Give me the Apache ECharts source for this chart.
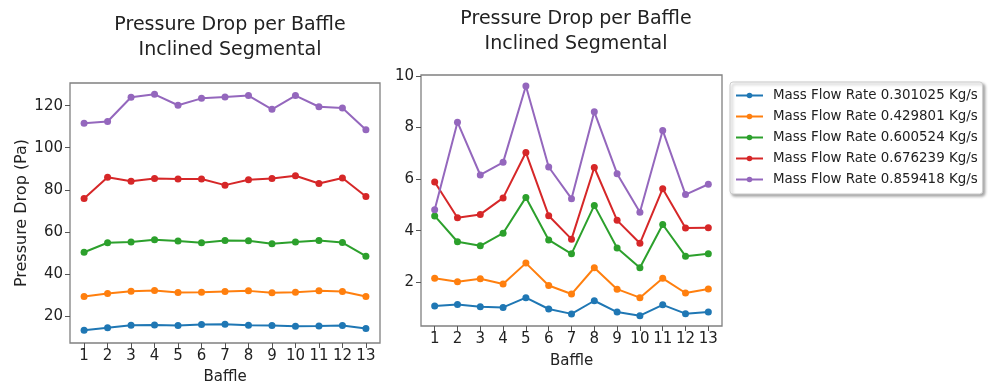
<!DOCTYPE html>
<html>
<head>
<meta charset="utf-8">
<script src="https://cdn.jsdelivr.net/npm/echarts@6/dist/echarts.min.js"></script>
<style>
html,body{margin:0;padding:0;background:#fff;}
#c{width:993px;height:385px;}
</style>
</head>
<body>
<div id="c"></div>
<script>
const baffles = [1,2,3,4,5,6,7,8,9,10,11,12,13];
const seriesNames = [
  'Mass Flow Rate 0.301025 Kg/s',
  'Mass Flow Rate 0.429801 Kg/s',
  'Mass Flow Rate 0.600524 Kg/s',
  'Mass Flow Rate 0.676239 Kg/s',
  'Mass Flow Rate 0.859418 Kg/s'
];
const colors = ['#1f77b4','#ff7f0e','#2ca02c','#d62728','#9467bd'];

// Left chart values (Pa)
const left0 = [13.2,14.3,15.6,15.7,15.4,15.9,16.0,15.6,15.4,15.1,15.2,15.4,14.0];
const left1 = [29.2,30.6,31.7,32.1,31.1,31.3,31.6,31.9,31.0,31.3,31.9,31.6,29.2];
const left2 = [50.3,54.8,55.2,56.2,55.6,54.8,55.9,55.7,54.3,55.1,55.9,54.9,48.4];
const left3 = [75.9,86.0,84.1,85.4,85.1,85.1,82.2,84.8,85.4,86.7,83.0,85.6,76.8];
const left4 = [111.7,112.5,124.0,125.4,120.2,123.5,124.1,124.8,118.3,124.8,119.5,118.9,108.6];

// Right chart values
const right0 = [1.08,1.13,1.05,1.02,1.40,0.96,0.77,1.28,0.84,0.70,1.12,0.78,0.84];
const right1 = [2.15,2.02,2.13,1.93,2.74,1.87,1.54,2.56,1.73,1.40,2.15,1.58,1.74];
const right2 = [4.57,3.57,3.41,3.90,5.29,3.64,3.10,4.98,3.33,2.56,4.24,3.01,3.10];
const right3 = [5.89,4.50,4.63,5.27,7.03,4.58,3.67,6.45,4.40,3.51,5.63,4.10,4.11];
const right4 = [4.81,8.21,6.16,6.65,9.61,6.47,5.24,8.61,6.21,4.71,7.89,5.40,5.80];

const leftTicks = [20,40,60,80,100,120];
const rightTicks = [2,4,6,8,10];
const titleText = 'Pressure Drop per Baffle\nInclined Segmental';

const leftData = [left0,left1,left2,left3,left4];
const rightData = [right0,right1,right2,right3,right4];

const FONT = 'DejaVu Sans';
const frame = '#808080';

function mkX(idx){
  return {
    type:'value', gridIndex:idx, min:0.4, max:13.6,
    name:'Baffle', nameLocation:'middle', nameGap: idx===0?27:28,
    nameTextStyle:{fontFamily:FONT,fontSize:15,color:'#222'},
    axisLine:{show:false},
    splitLine:{show:false},
    axisTick:{show:true,length:5,lineStyle:{color:'#555'},customValues:baffles},
    axisLabel:{fontFamily:FONT,fontSize:15,color:'#222',margin:6,customValues:baffles}
  };
}
function mkY(idx,min,max,ticks,name){
  return {
    type:'value', gridIndex:idx, min:min, max:max,
    name:name, nameLocation:'middle', nameGap:40,
    nameTextStyle:{fontFamily:FONT,fontSize:16,color:'#222'},
    axisLine:{show:false},
    splitLine:{show:false},
    axisTick:{show:true,length:5,lineStyle:{color:'#555'},customValues:ticks},
    axisLabel:{fontFamily:FONT,fontSize:15,color:'#222',margin:7,customValues:ticks}
  };
}

const series = [];
leftData.forEach((arr,i)=>{
  series.push({
    type:'line', name:seriesNames[i], xAxisIndex:0, yAxisIndex:0,
    data: baffles.map((b,j)=>[b,arr[j]]),
    symbol:'circle', symbolSize:7, color:colors[i],
    lineStyle:{width:2}, emphasis:{disabled:true}
  });
});
rightData.forEach((arr,i)=>{
  series.push({
    type:'line', name:seriesNames[i], xAxisIndex:1, yAxisIndex:1,
    data: baffles.map((b,j)=>[b,arr[j]]),
    symbol:'circle', symbolSize:7, color:colors[i],
    lineStyle:{width:2}, emphasis:{disabled:true}
  });
});

const chart = echarts.init(document.getElementById('c'), null, {renderer:'canvas'});
chart.setOption({
  animation:false,
  backgroundColor:'#fff',
  title:[
    {text:titleText, left:225, top:8, textAlign:'center',
     textStyle:{fontFamily:FONT,fontSize:19,fontWeight:'normal',color:'#222',lineHeight:25}},
    {text:titleText, left:571, top:2, textAlign:'center',
     textStyle:{fontFamily:FONT,fontSize:19,fontWeight:'normal',color:'#222',lineHeight:25}}
  ],
  legend:{
    orient:'vertical', left:730, top:82,
    data:seriesNames,
    itemWidth:27, itemHeight:7, itemGap:8,
    padding:[7,5,8,5],
    backgroundColor:'#fff', borderColor:'#cccccc', borderWidth:1, borderRadius:3,
    shadowBlur:3, shadowOffsetX:2, shadowOffsetY:2, shadowColor:'rgba(0,0,0,0.35)',
    textStyle:{fontFamily:FONT,fontSize:13.4,color:'#222',lineHeight:13,padding:[0,0,0,5]}
  },
  grid:[
    {left:70, top:83, width:310, height:260, show:true, borderColor:frame, borderWidth:1.3, backgroundColor:'transparent', outerBoundsMode:'none'},
    {left:421, top:75, width:301, height:251, show:true, borderColor:frame, borderWidth:1.3, backgroundColor:'transparent', outerBoundsMode:'none'}
  ],
  xAxis:[mkX(0), mkX(1)],
  yAxis:[mkY(0,7.1,130.8,leftTicks,'Pressure Drop (Pa)'), mkY(1,0.3,10.04,rightTicks,'')],
  series:series
});
</script>
</body>
</html>
